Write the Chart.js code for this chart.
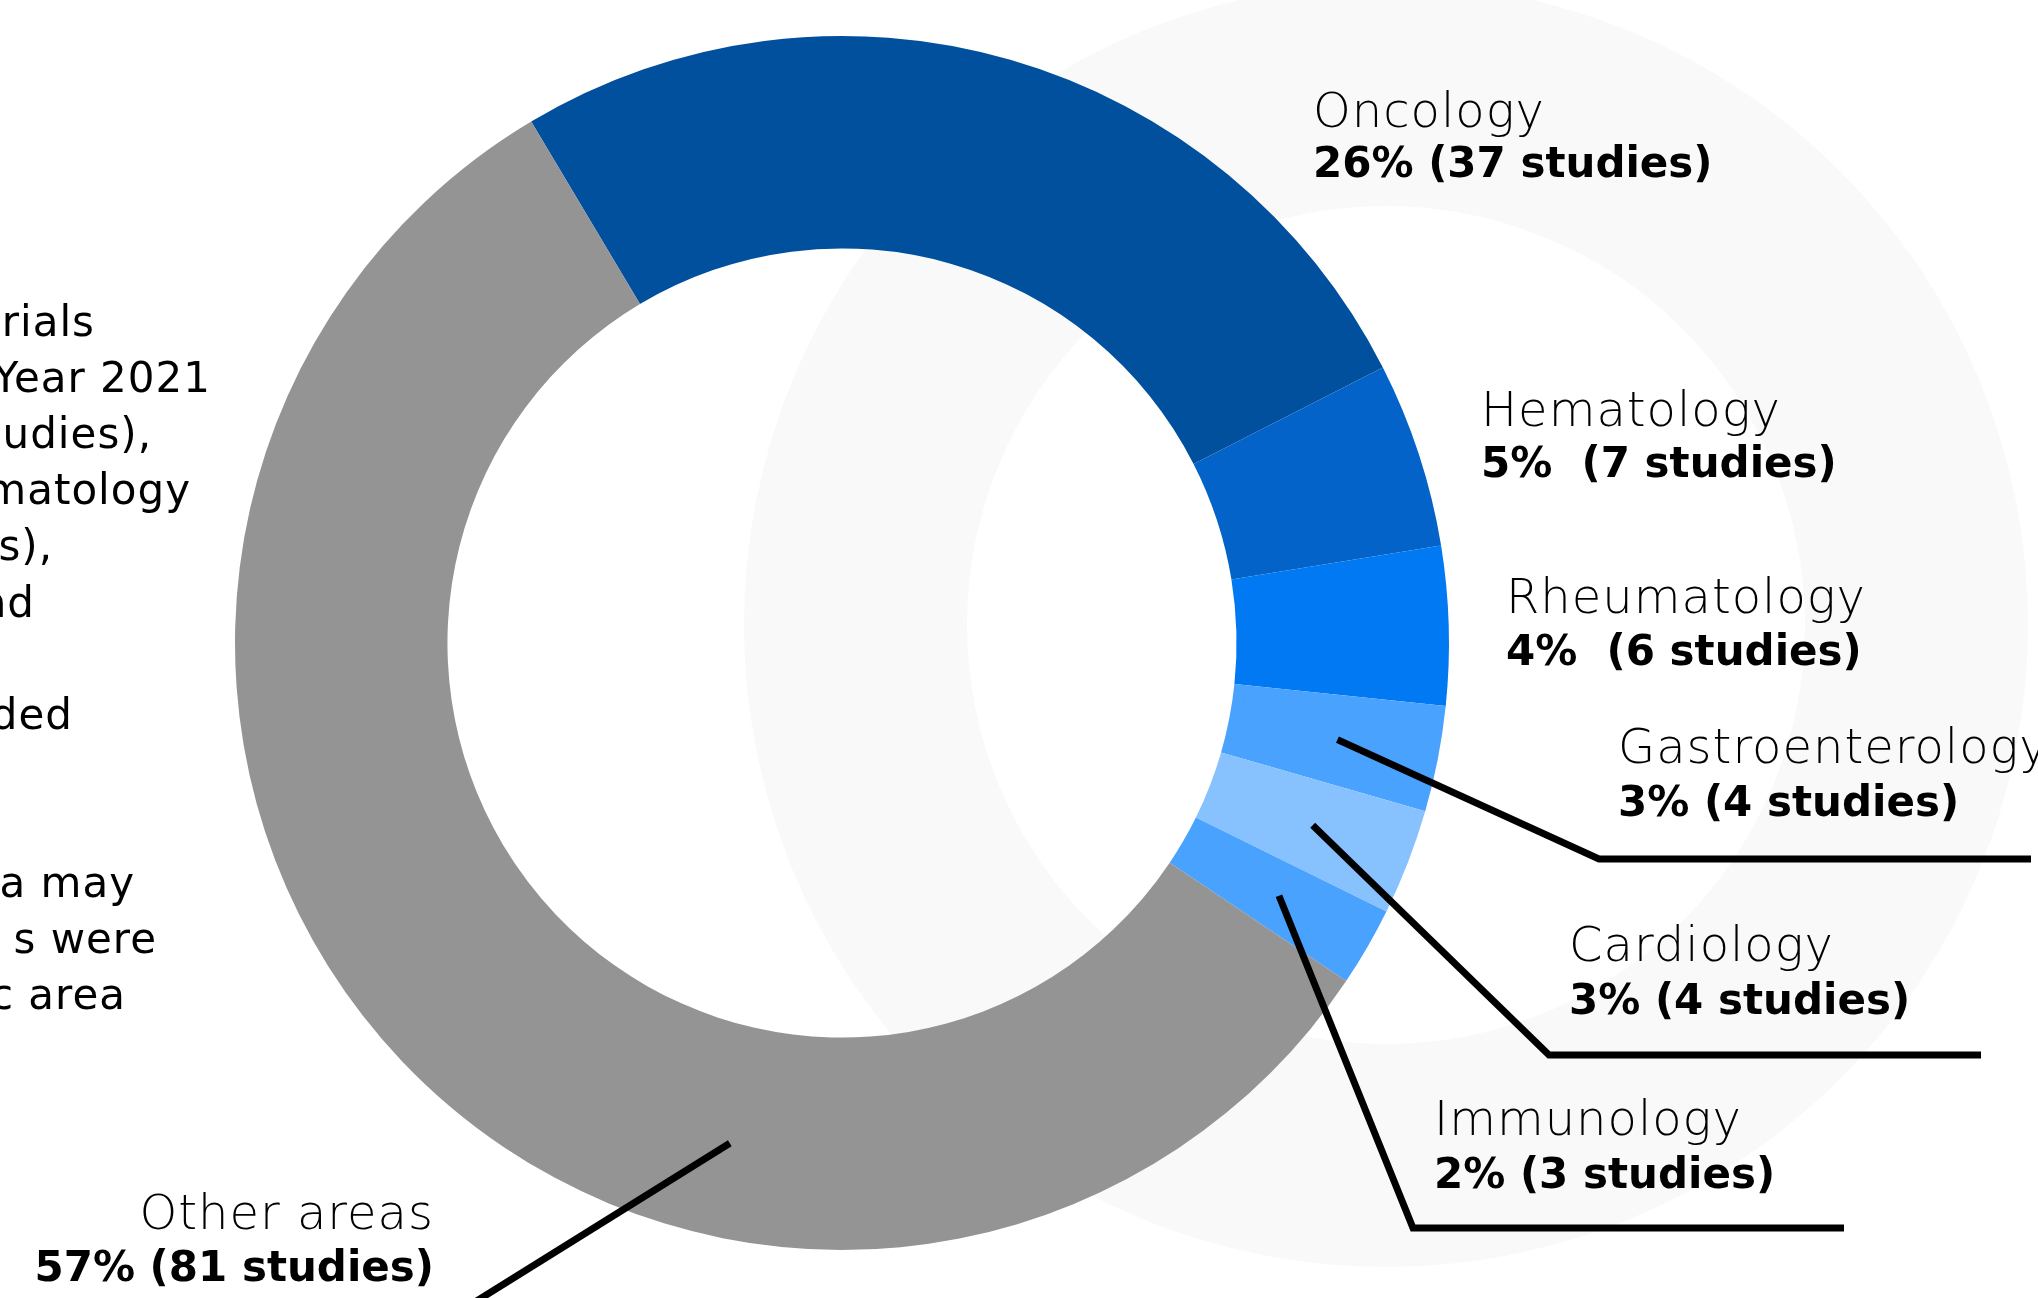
<!DOCTYPE html>
<html>
<head>
<meta charset="utf-8">
<script src="https://cdn.jsdelivr.net/npm/chart.js@4"></script>
<style>
  html, body { margin: 0; padding: 0; background: #ffffff; overflow: hidden; }
  canvas { display: block; }
</style>
</head>
<body>
<canvas id="c" width="2038" height="1298"></canvas>
<script>
// ---- data ----
const categories = ["Oncology", "Hematology", "Rheumatology", "Gastroenterology", "Cardiology", "Immunology", "Other areas"];
const studies = [37, 7, 6, 4, 4, 3, 81];
const valueLabels = ["26% (37 studies)", "5%  (7 studies)", "4%  (6 studies)", "3% (4 studies)", "3% (4 studies)", "2% (3 studies)", "57% (81 studies)"];
const sliceColors = ["#01509e", "#0363c8", "#0079f2", "#48a2fe", "#88c2fe", "#48a2fe", "#949494"];
// visible fragments of the (clipped) note paragraph on the left
const noteLines = ["rials", "Year 2021", "udies),", "matology", "s),", "nd", "", "ded", "", "", "a may", "s were", "c area"];

// ---- label layout (x, name baseline, value baseline, align) ----
const labelPos = [
  {x: 1313, y1: 127, y2: 177, align: "left"},
  {x: 1481, y1: 426, y2: 477, align: "left"},
  {x: 1506, y1: 613, y2: 665, align: "left"},
  {x: 1618, y1: 763, y2: 816, align: "left"},
  {x: 1569, y1: 961, y2: 1014, align: "left"},
  {x: 1434, y1: 1135, y2: 1188, align: "left"},
  {x: 434,  y1: 1229, y2: 1281, align: "right"}
];
// leader lines: elbow + end of horizontal
const leaders = {
  3: {elbow: [1599, 859], end: [2031, 859]},
  4: {elbow: [1549, 1055], end: [1981, 1055]},
  5: {elbow: [1413, 1228], end: [1844, 1228]}
};
const otherLeader = {frac: 0.335, end: [430, 1330]};
const noteEnds = [95, 211, 152, 191, 53, 35, 0, 73, 0, 0, 135, 157, 126];

const NAME_FONT = '200 48px "DejaVu Sans"';
const VALUE_FONT = 'bold 42px "DejaVu Sans"';
const NOTE_FONT = '42px "DejaVu Sans"';

const decor = {
  id: 'decor',
  beforeDatasetsDraw(chart) {
    const ctx = chart.ctx;
    ctx.save();
    ctx.beginPath();
    ctx.arc(1386, 625, 642, 0, Math.PI * 2);
    ctx.arc(1386, 625, 419, 0, Math.PI * 2, true);
    ctx.fillStyle = '#f9f9f9';
    ctx.fill('evenodd');
    ctx.restore();
  },
  afterDatasetsDraw(chart) {
    const ctx = chart.ctx;
    const arcs = chart.getDatasetMeta(0).data;
    ctx.save();
    ctx.strokeStyle = '#000';
    ctx.lineWidth = 7;
    ctx.lineCap = 'butt';
    ctx.lineJoin = 'miter';
    Object.keys(leaders).forEach(k => {
      const o = arcs[k].getProps(['x','y','startAngle','endAngle','innerRadius','outerRadius'], true);
      const a = (o.startAngle + o.endAngle) / 2;
      const r = (o.innerRadius + o.outerRadius) / 2 + 4;
      const L = leaders[k];
      ctx.beginPath();
      ctx.moveTo(o.x + r * Math.cos(a), o.y + r * Math.sin(a));
      ctx.lineTo(L.elbow[0], L.elbow[1]);
      ctx.lineTo(L.end[0], L.end[1]);
      ctx.stroke();
    });
    // other areas leader
    const o = arcs[6].getProps(['x','y','startAngle','endAngle','innerRadius','outerRadius'], true);
    const a = o.startAngle + otherLeader.frac * (o.endAngle - o.startAngle);
    const r = (o.innerRadius + o.outerRadius) / 2 + 12;
    ctx.beginPath();
    ctx.moveTo(o.x + r * Math.cos(a), o.y + r * Math.sin(a));
    ctx.lineTo(otherLeader.end[0], otherLeader.end[1]);
    ctx.stroke();

    // labels
    ctx.fillStyle = '#000';
    ctx.textBaseline = 'alphabetic';
    categories.forEach((name, i) => {
      const P = labelPos[i];
      ctx.textAlign = P.align;
      ctx.font = NAME_FONT;
      ctx.letterSpacing = '1px';
      ctx.fillText(name, P.x, P.y1);
      ctx.letterSpacing = '0px';
      ctx.font = VALUE_FONT;
      ctx.fillText(valueLabels[i], P.x, P.y2);
    });
    // clipped note text
    ctx.font = NOTE_FONT;
    ctx.letterSpacing = '1px';
    ctx.textAlign = 'right';
    noteLines.forEach((t, i) => {
      if (t) ctx.fillText(t, noteEnds[i], 336 + 56.1 * i);
    });
    ctx.restore();
  }
};

new Chart(document.getElementById('c'), {
  type: 'doughnut',
  data: {
    labels: categories,
    datasets: [{
      data: studies,
      backgroundColor: sliceColors,
      borderWidth: 0
    }]
  },
  options: {
    responsive: false,
    animation: false,
    rotation: -30.8,
    cutout: '65%',
    layout: { padding: { left: 235, right: 589, top: 36, bottom: 48 } },
    plugins: { legend: { display: false }, tooltip: { enabled: false } },
    events: []
  },
  plugins: [decor]
});
</script>
</body>
</html>
